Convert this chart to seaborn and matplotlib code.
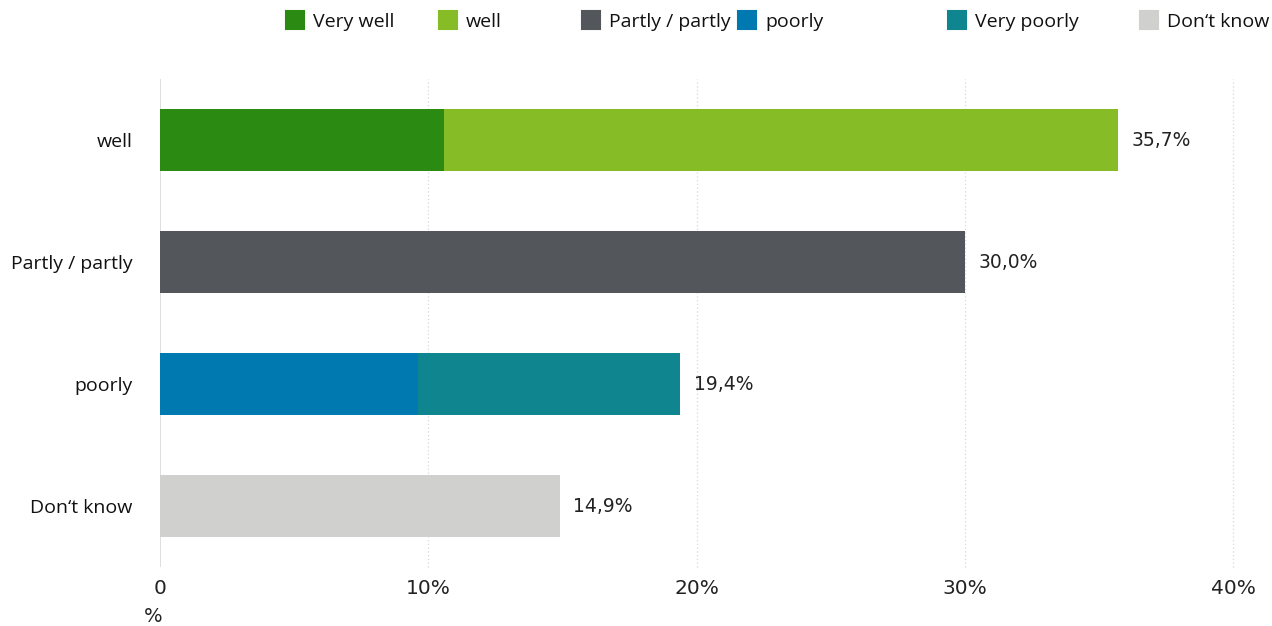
import matplotlib
matplotlib.use("Agg")
import matplotlib.pyplot as plt
import seaborn as sns
import pandas as pd
from matplotlib.lines import Line2D

categories = ["well", "Partly / partly", "poorly", "Don‘t know"]
totals = [35.7, 30.0, 19.4, 14.9]
totals_series = ["well", "Partly / partly", "Very poorly", "Don‘t know"]
first_values = [10.6, 0.0, 9.6, 0.0]
first_series = ["Very well", "Partly / partly", "poorly", "Don‘t know"]
total_labels = ["35,7%", "30,0%", "19,4%", "14,9%"]
legend_names = ["Very well", "well", "Partly / partly", "poorly", "Very poorly", "Don‘t know"]
colors = {
    "Very well": "#2a8a12",
    "well": "#86bc25",
    "Partly / partly": "#53565a",
    "poorly": "#0079b0",
    "Very poorly": "#0f858f",
    "Don‘t know": "#d0d0ce",
}
xticks = [0, 10, 20, 30, 40]
xticklabels = ["0", "10%", "20%", "30%", "40%"]

sns.set_theme(style="white")
plt.rcParams["font.family"] = ["Open Sans", "DejaVu Sans"]

fig = plt.figure(figsize=(12.72, 6.26), dpi=100)
ax = fig.add_axes([160 / 1272, 59 / 626, (1233 - 160) / 1272, 488 / 626])

df_tot = pd.DataFrame({"category": categories, "value": totals, "series": totals_series})
df_first = pd.DataFrame({"category": categories, "value": first_values, "series": first_series})

sns.barplot(data=df_tot, x="value", y="category", hue="series", palette=colors,
            dodge=False, width=0.51, ax=ax, legend=False, saturation=1, order=categories)
sns.barplot(data=df_first, x="value", y="category", hue="series", palette=colors,
            dodge=False, width=0.51, ax=ax, legend=False, saturation=1, order=categories)
for p in ax.patches:
    p.set_linewidth(0)

ax.set_xlim(0, 40)
ax.set_ylim(3.5, -0.5)
for x in xticks[1:]:
    ax.axvline(x, color="#d8d8d8", lw=0.9, ls=(0, (1, 2)), zorder=0, clip_on=False)
ax.axvline(0, color="#d9d9d9", lw=1.2, zorder=0)
for s in ax.spines.values():
    s.set_visible(False)

ax.set_xticks(xticks)
ax.set_xticklabels(xticklabels, fontsize=14.5, color="#222222", family="DejaVu Sans")
ax.tick_params(axis="x", length=0, pad=9)
ax.tick_params(axis="y", length=0, pad=20)
for lab in ax.get_yticklabels():
    lab.set_fontsize(14)
    lab.set_color("#111111")
ax.set_xlabel("")
ax.set_ylabel("")

for i, (t, lab) in enumerate(zip(totals, total_labels)):
    ax.text(t + 0.5, i, lab, va="center", ha="left", fontsize=13.5, color="#222222",
            family="DejaVu Sans")

fig.text(153 / 1272, 1 - 617 / 626, "%", ha="center", va="center", fontsize=14,
         color="#222222", family="DejaVu Sans")

legend_x = [287, 440, 583, 739, 949, 1141]
for name, lx in zip(legend_names, legend_x):
    h = Line2D([0], [0], marker="s", color="none", markerfacecolor=colors[name],
               markeredgecolor=colors[name], markersize=13, markeredgewidth=1.5,
               solid_joinstyle="round")
    leg = fig.legend([h], [name], loc="center left", bbox_to_anchor=(lx / 1272, 1 - 22 / 626),
                     frameon=False, prop={"size": 14},
                     handlelength=0.8, handletextpad=0.55, borderpad=0, borderaxespad=0)
    for txt in leg.get_texts():
        txt.set_color("#111111")

fig.savefig("out.png", dpi=100)
